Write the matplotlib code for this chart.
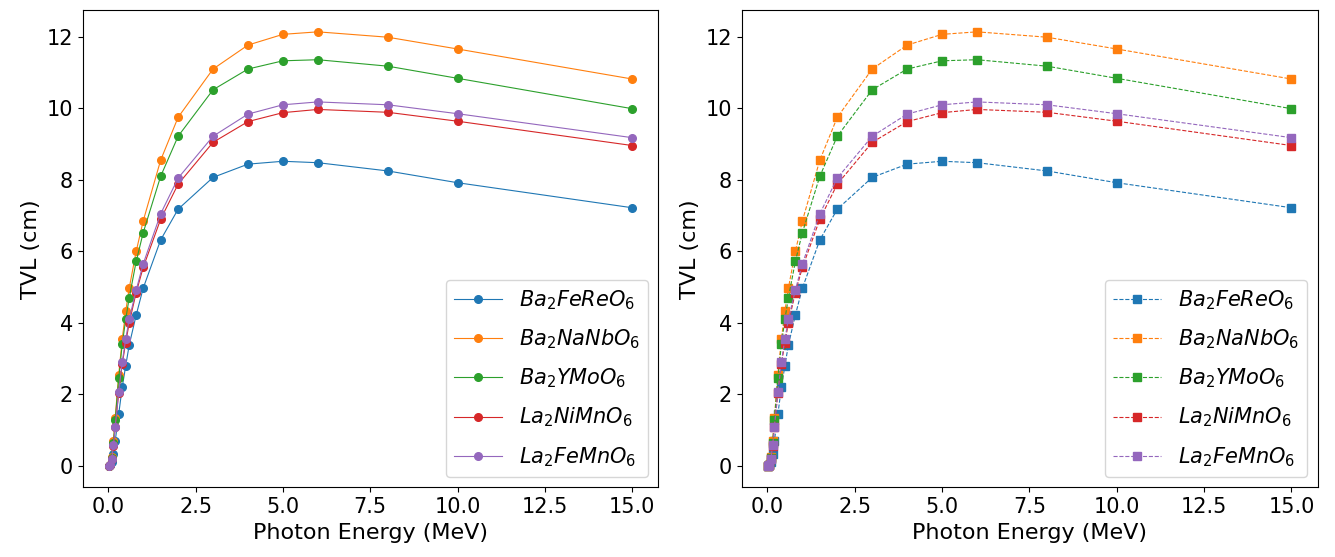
import numpy as np
import matplotlib.pyplot as plt

# photon energies (MeV)
energy = [0.02, 0.05, 0.1, 0.15, 0.2, 0.3, 0.4, 0.5, 0.6, 0.8, 1, 1.5, 2, 3, 4, 5, 6, 8, 10, 15]

# TVL (cm) for each compound
ba2fereo6 = [0.0, 0.02, 0.12, 0.33, 0.7, 1.45, 2.2, 2.8, 3.38, 4.22, 4.97, 6.32, 7.18, 8.07, 8.44, 8.52, 8.48, 8.25, 7.92, 7.22]
ba2nanbo6 = [0.0, 0.03, 0.25, 0.7, 1.35, 2.55, 3.55, 4.32, 4.97, 6.0, 6.85, 8.55, 9.75, 11.1, 11.77, 12.07, 12.14, 11.99, 11.66, 10.82]
ba2ymoo6 = [0.0, 0.03, 0.22, 0.65, 1.28, 2.45, 3.4, 4.1, 4.7, 5.72, 6.52, 8.1, 9.22, 10.52, 11.1, 11.33, 11.36, 11.18, 10.84, 9.99]
la2nimno6 = [0.0, 0.02, 0.2, 0.55, 1.1, 2.05, 2.85, 3.45, 4.0, 4.85, 5.55, 6.9, 7.88, 9.05, 9.63, 9.88, 9.97, 9.89, 9.64, 8.96]
la2femno6 = [0.0, 0.02, 0.2, 0.58, 1.1, 2.07, 2.9, 3.55, 4.1, 4.92, 5.65, 7.05, 8.05, 9.22, 9.84, 10.1, 10.18, 10.1, 9.85, 9.18]

series = [ba2fereo6, ba2nanbo6, ba2ymoo6, la2nimno6, la2femno6]
labels = [r'$Ba_2FeReO_6$', r'$Ba_2NaNbO_6$', r'$Ba_2YMoO_6$', r'$La_2NiMnO_6$', r'$La_2FeMnO_6$']

fig, axes = plt.subplots(1, 2, figsize=(13.35, 5.57), dpi=100)
fig.subplots_adjust(left=0.062, right=0.987, bottom=0.125, top=0.982, wspace=0.145)

# left: solid lines with circles, right: dashed lines with squares
styles = [('-', 'o'), ('--', 's')]
for ax, (ls, mk) in zip(axes, styles):
    for y, lab in zip(series, labels):
        ax.plot(energy, y, linestyle=ls, marker=mk, markersize=5.5, linewidth=0.8, label=lab)
    ax.set_xlabel('Photon Energy (MeV)', fontsize=16)
    ax.set_ylabel('TVL (cm)', fontsize=16)
    ax.set_xticks(np.arange(0, 15.1, 2.5))
    ax.tick_params(labelsize=15)
    ax.set_ylim(-0.6, 12.75)
    ax.legend(loc='lower right', fontsize=15, labelspacing=0.75, handlelength=2.3)

plt.savefig('out.png')
